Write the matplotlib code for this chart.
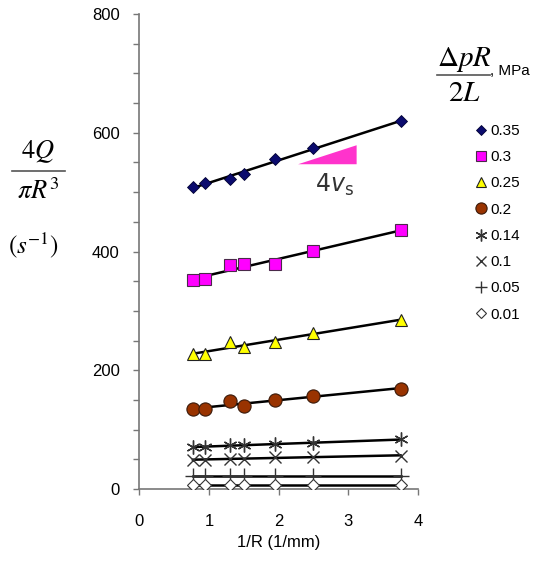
"""Flow rate vs inverse radius for several wall shear stresses."""

import matplotlib.pyplot as plt
from matplotlib.lines import Line2D
import numpy as np

plt.rcParams["font.family"] = ["Liberation Sans", "DejaVu Sans"]

# data
inv_r = [0.77, 0.95, 1.3, 1.5, 1.95, 2.5, 3.75]
labels = ["0.35", "0.3", "0.25", "0.2", "0.14", "0.1", "0.05", "0.01"]
q_035 = [509, 516, 522, 531, 555, 575, 619]
q_030 = [352, 354, 377, 379, 379, 401, 436]
q_025 = [228, 227, 247, 239, 248, 262, 285]
q_020 = [135, 135, 148, 139, 150, 157, 169]
q_014 = [71, 71, 74, 74, 75, 77, 84]
q_010 = [49, 49, 51, 51, 54, 54, 56]
q_005 = [22, 22, 22, 22, 22, 22, 22]
q_001 = [6, 6, 6, 6, 6, 6, 6]
series = [q_035, q_030, q_025, q_020, q_014, q_010, q_005, q_001]

# slope triangle annotation
tri_x = [2.28, 3.12, 3.12]
tri_y = [547, 579, 547]

styles = [
    dict(marker="D", ms=6.5, mfc="#0b0b6e", mec="#000033", mew=0.6),
    dict(marker="s", ms=8.5, mfc="#ff00ff", mec="#4a2a4a", mew=0.8),
    dict(marker="^", ms=8.5, mfc="#ffff00", mec="#222222", mew=0.8),
    dict(marker="o", ms=9.5, mfc="#993300", mec="#3a1a0a", mew=0.8),
    dict(marker=(6, 2, 0), ms=10, mfc="none", mec="#333333", mew=1.0),
    dict(marker="x", ms=9, mfc="none", mec="#333333", mew=1.0),
    dict(marker="+", ms=11, mfc="none", mec="#333333", mew=1.0),
    dict(marker="D", ms=6, mfc="white", mec="#333333", mew=0.8),
]

fig = plt.figure(figsize=(5.41, 5.61), dpi=100)
ax = fig.add_axes([0.2575, 0.1283, 0.515, 0.8467])

x = np.array(inv_r)
handles = []
for vals, st, lab in zip(series, styles, labels):
    y = np.array(vals)
    k, b = np.polyfit(x, y, 1)
    xx = np.array([x[0], x[-1]])
    ax.plot(xx, k * xx + b, color="black", lw=1.8, zorder=2)
    ax.plot(x, y, ls="none", zorder=3, **st)
    handles.append(Line2D([], [], ls="none", label=lab, **st))

ax.fill(tri_x, tri_y, color="#ff33cc", lw=0, zorder=1)
ax.text(2.8, 512, r"$4\mathit{v}_{\mathrm{s}}$", fontsize=17,
        ha="center", va="center", math_fontfamily="dejavusans", color="#333333")

ax.set_xlim(0, 4)
ax.set_ylim(0, 800)
ax.set_xticks([0, 1, 2, 3, 4])
ax.set_yticks([0, 200, 400, 600, 800])
ax.set_yticks(np.arange(0, 801, 50), minor=True)
for side in ["top", "right"]:
    ax.spines[side].set_visible(False)
for side in ["left", "bottom"]:
    ax.spines[side].set_color("#777777")
    ax.spines[side].set_linewidth(1.2)
ax.tick_params(axis="both", which="both", direction="out", length=4,
               color="#777777", width=1.0, labelsize=12)
ax.tick_params(axis="y", pad=10)
ax.tick_params(axis="x", pad=14)
ax.set_xlabel("1/R (1/mm)", fontsize=12, labelpad=4)

# y label as a stacked fraction
fig.text(38 / 541, 1 - 152 / 561, r"$4Q$", fontsize=19, ha="center", va="center",
         math_fontfamily="stix")
fig.add_artist(Line2D([12 / 541, 65 / 541], [1 - 171 / 561] * 2, color="#555555",
                      lw=1.2))
fig.text(38 / 541, 1 - 191 / 561, r"$\pi R^3$", fontsize=19, ha="center",
         va="center", math_fontfamily="stix")
fig.text(33 / 541, 1 - 245 / 561, r"$(s^{\mathrm{-1}})$", fontsize=18,
         ha="center", va="center", math_fontfamily="stix")

# legend title
fig.text(464 / 541, 1 - 59 / 561, r"$\Delta pR$", fontsize=21, ha="center",
         va="center", math_fontfamily="stix")
fig.add_artist(Line2D([437 / 541, 490 / 541], [1 - 75 / 561] * 2, color="#555555",
                      lw=1.2))
fig.text(464 / 541, 1 - 93 / 561, r"$2L$", fontsize=21, ha="center", va="center",
         math_fontfamily="stix")
fig.text(490 / 541, 1 - 71 / 561, ", MPa", fontsize=11, ha="left", va="center")

fig.legend(handles=handles, loc="upper left", bbox_to_anchor=(0.877, 0.779),
           frameon=False, fontsize=11, handlelength=0.8, handletextpad=0.25,
           labelspacing=0.8, borderpad=0, borderaxespad=0, markerscale=0.85)

fig.savefig("out.png", dpi=100)
